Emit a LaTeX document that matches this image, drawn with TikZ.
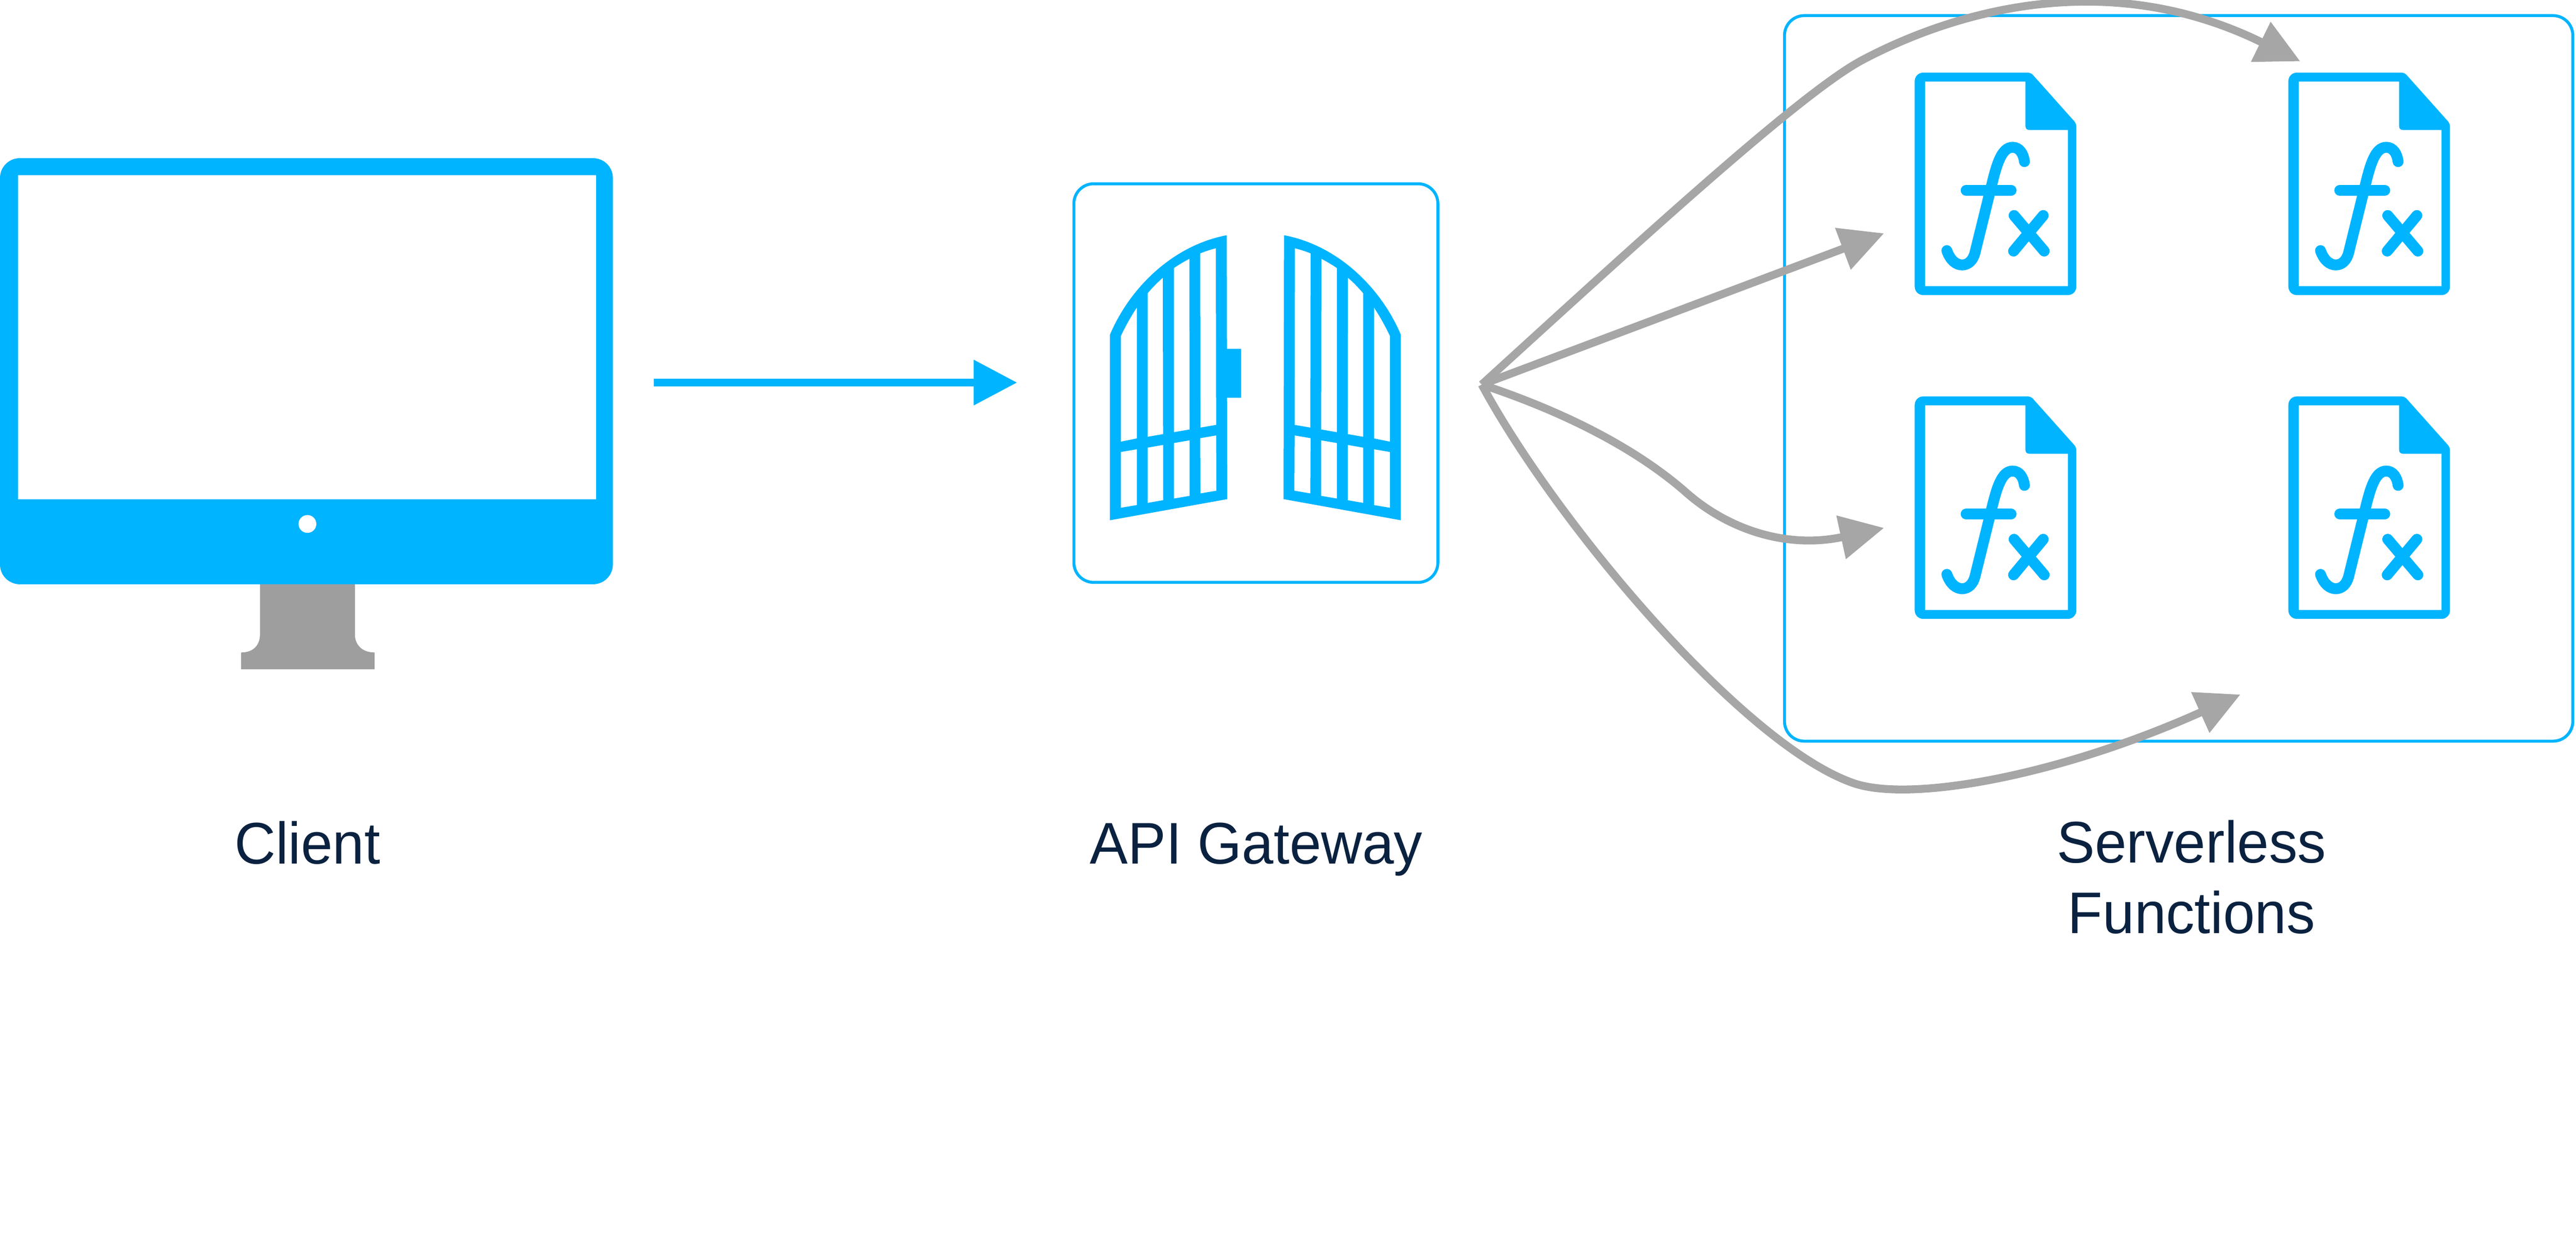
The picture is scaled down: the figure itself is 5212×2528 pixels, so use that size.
\documentclass[tikz,border=0pt]{standalone}
\usepackage{fontspec}
\setmainfont[FakeStretch=0.97]{Liberation Sans}
\usetikzlibrary{arrows.meta,positioning}
\definecolor{skyblue}{HTML}{00B4FF}
\definecolor{standgray}{HTML}{9E9E9E}
\definecolor{arrowgray}{HTML}{A6A6A6}
\definecolor{labelnavy}{HTML}{0A2240}
\tikzset{
	framebox/.style={draw=skyblue, line width=0.06cm, rounded corners=0.4cm},
	caption/.style={font=\fontsize{33.8}{40.4}\selectfont, text=labelnavy, align=center, inner sep=0},
	flow/.style={draw=arrowgray, line width=0.16cm, -{Triangle[length=0.89cm,width=0.86cm]}},
	stroke/.style={draw=skyblue, line width=0.22cm, line cap=round},
	fxdoc/.pic={
		%--sheet with folded corner
		\fill[skyblue, even odd rule]
			[rounded corners=0.17cm] (0,225) -- (0,0)
			[rounded corners=0.06cm] -- (235,0) -- (327,103)
			[rounded corners=0.17cm] -- (327,450) -- (0,450) -- cycle
			[sharp corners] (21,18) -- (224,18) -- (224,108)
			.. controls (224,113) and (227,116) .. (232,116) -- (310,116) -- (310,432) -- (21,432) -- cycle;
		%--f and x
		\draw[stroke] (65,360) .. controls (72,380) and (84,389) .. (96,389)
			.. controls (108,389) and (118,380) .. (122,364) -- (156,226)
			.. controls (166,185) and (176,151) .. (198,151)
			.. controls (212,151) and (220,164) .. (222,180);
		\draw[stroke] (104,238) -- (195,238);
		\draw[stroke] (201,289) -- (262,361);
		\draw[stroke] (260,289) -- (200,361);
	}
}
%--one wing of the gate, coordinates of the magnified crop
\newcommand{\gatewing}{
	\fill[skyblue, even odd rule]
		(266,1300) -- (266,615) .. controls (340,440) and (500,285) .. (697,248) -- (699,1222) -- cycle
		(306,620) .. controls (325,580) and (345,545) .. (365,515) -- (365,998) -- (306,1010) -- cycle
		(405,462) .. controls (423,441) and (441,422) .. (461,405) -- (462,982) -- (405,992) -- cycle
		(502,369) .. controls (521,356) and (540,345) .. (559,335) -- (560,965) -- (502,975) -- cycle
		(599,315) .. controls (618,307) and (638,301) .. (657,296) -- (658,948) -- (600,958) -- cycle
		(306,1048) -- (365,1038) -- (365,1244) -- (306,1254) -- cycle
		(405,1032) -- (462,1022) -- (462,1226) -- (405,1236) -- cycle
		(502,1015) -- (560,1005) -- (560,1210) -- (502,1220) -- cycle
		(599,997) -- (658,987) -- (659,1191) -- (600,1201) -- cycle;
}
\begin{document}
\begin{tikzpicture}[x=0.01cm,y=-0.01cm]
	\useasboundingbox (0,0) rectangle (5212,2528);
	%--client
	\fill[standgray] (526,1170) -- (718,1170) -- (718,1283) .. controls (718,1305) and (733,1320) .. (758,1320)
		-- (758,1354) -- (488,1354) -- (488,1320) .. controls (513,1320) and (526,1305) .. (526,1283) -- cycle;
	\fill[skyblue, rounded corners=0.4cm] (0,320) rectangle (1240,1182);
	\fill[white] (36,354) rectangle (1206,1010);
	\fill[white] (622,1060) circle (18);
	%--gateway
	\node[framebox, minimum width=7.36cm, minimum height=8.06cm] (gatebox) at (2541,775) {};
	\begin{scope}[shift={(2100,340)},x=0.005485cm,y=-0.005485cm]
		\gatewing
		\fill[skyblue] (690,667) rectangle (750,848);
	\end{scope}
	\begin{scope}[shift={(2980,340)},x=-0.005485cm,y=-0.005485cm]
		\gatewing
	\end{scope}
	%--functions
	\node[framebox, minimum width=15.94cm, minimum height=14.67cm] (funcbox) at (4408,765.5) {};
	\foreach \x in {3874,4630}
		\foreach \y in {147,802}
			\pic at (\x,\y) {fxdoc};
	%--connectors
	\coordinate (clientout) at (1323,774);
	\coordinate (gatein) at (2058,774);
	\draw[draw=skyblue, line width=0.16cm, -{Triangle[length=0.88cm,width=0.88cm,fill=skyblue]}] (clientout) -- (gatein);
	\coordinate (hub) at (2998,778);
	\coordinate (tipA) at (4654,124);
	\coordinate (tipB) at (3812,472);
	\coordinate (tipC) at (3812,1068);
	\coordinate (tipD) at (4533,1405);
	\draw[flow] (hub) .. controls (3300,503) and (3640,190) .. (3767,122)
		.. controls (3950,25) and (4260,-70) .. (tipA);
	\draw[flow] (hub) -- (tipB);
	\draw[flow] (hub) .. controls (3200,845) and (3330,925) .. (3410,995)
		.. controls (3500,1075) and (3620,1110) .. (tipC);
	\draw[flow] (hub) .. controls (3150,1060) and (3530,1510) .. (3752,1585)
		.. controls (3870,1624) and (4170,1568) .. (tipD);
	%--labels
	\node[caption, anchor=base] (clientlabel) at (622,1748) {Client};
	\node[caption, anchor=base] (gatelabel) at (2542,1748) {API Gateway};
	\node[caption, anchor=base] (servlabel) at (4434,1746) {Serverless};
	\node[caption, anchor=base] (funclabel) at (4434,1888) {Functions};
\end{tikzpicture}
\end{document}
